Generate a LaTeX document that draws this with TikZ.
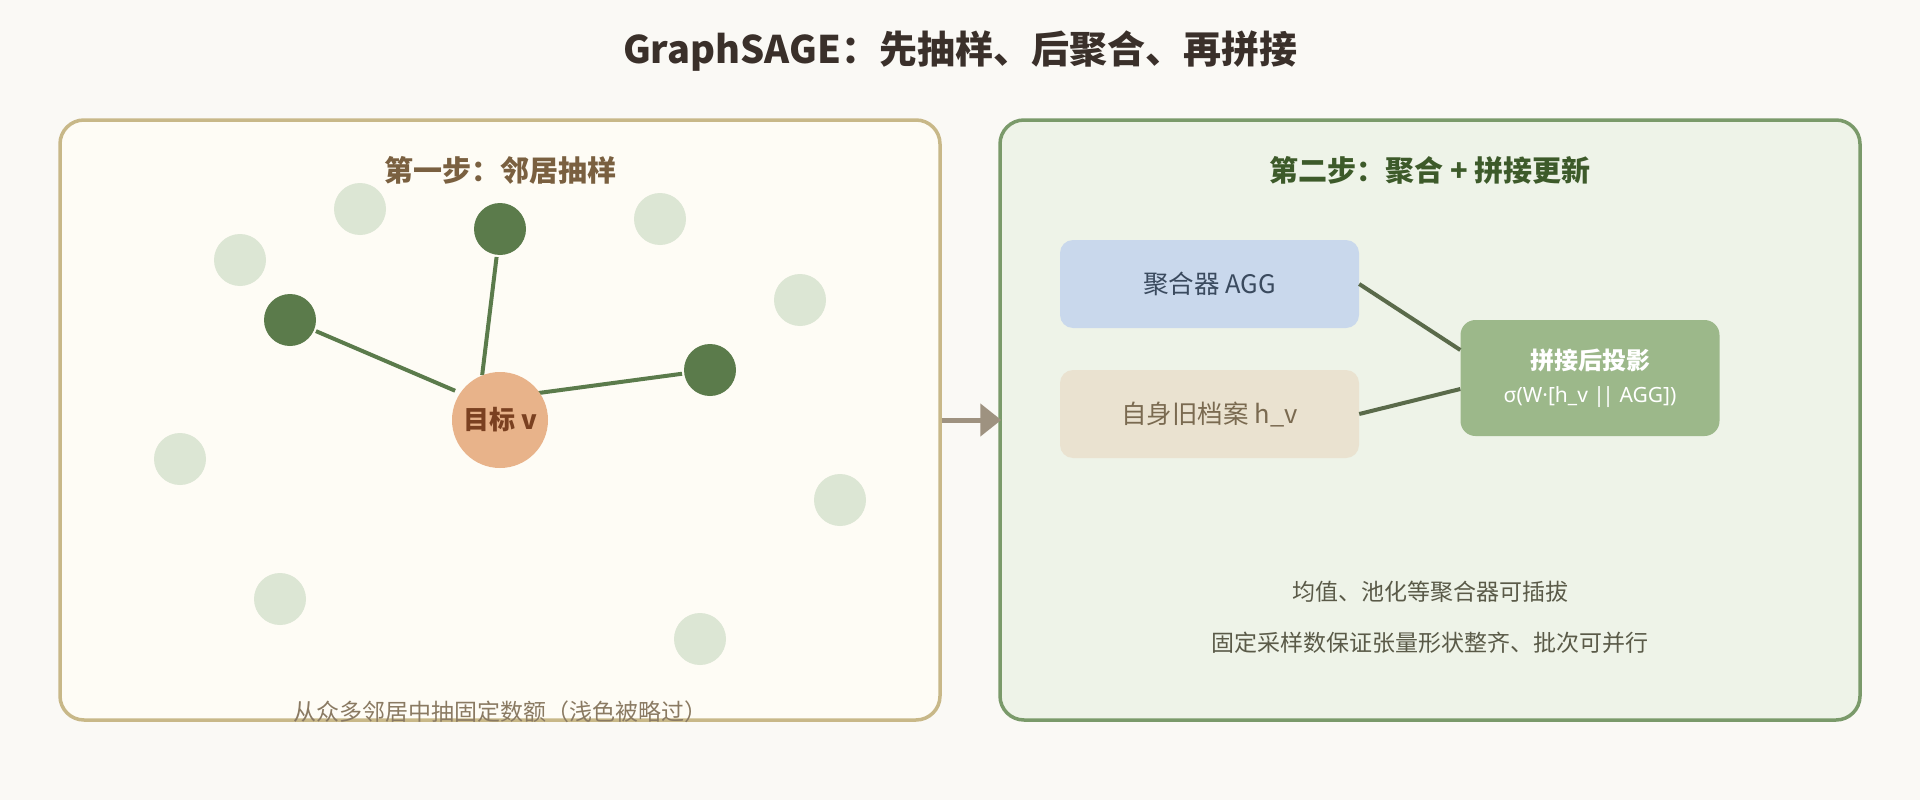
\documentclass[tikz,border=0pt]{standalone}
\usepackage{fontspec}
\setmainfont{Noto Sans CJK SC}
\newfontfamily\latinf{Noto Sans}
\usetikzlibrary{arrows.meta}
\definecolor{bgc}{HTML}{FAF9F5}
\definecolor{lfill}{HTML}{FEFCF5}
\definecolor{lborder}{HTML}{C8B888}
\definecolor{rfill}{HTML}{EEF3E8}
\definecolor{rborder}{HTML}{7A9A6A}
\definecolor{titlec}{HTML}{3A302A}
\definecolor{ltitle}{HTML}{7A6040}
\definecolor{rtitle}{HTML}{3D5A2A}
\definecolor{darkn}{HTML}{5B7B4B}
\definecolor{lightn}{HTML}{DCE6D4}
\definecolor{tfill}{HTML}{E8B38A}
\definecolor{ttext}{HTML}{7A4020}
\definecolor{arrowc}{HTML}{9E9280}
\definecolor{aggfill}{HTML}{C9D8EC}
\definecolor{aggtext}{HTML}{3A4A5E}
\definecolor{selffill}{HTML}{EAE2D0}
\definecolor{selftext}{HTML}{7A6A50}
\definecolor{projfill}{HTML}{9CB88A}
\definecolor{connc}{HTML}{5A6A4A}
\definecolor{notec}{HTML}{5A5A48}
\definecolor{capc}{HTML}{8A7A62}
\newcommand{\fs}[1]{\fontsize{#1}{#1}\selectfont}
\tikzset{
  panel/.style={draw, line width=3.5pt, rounded corners=24pt, minimum height=600pt, inner sep=0pt},
  darknode/.style={circle, fill=darkn, minimum size=52pt, inner sep=0pt},
  lightnode/.style={circle, fill=lightn, minimum size=52pt, inner sep=0pt},
  edge/.style={draw=darkn, line width=4pt, shorten <=2pt, shorten >=26pt},
  box/.style={rounded corners=13pt, minimum width=299pt, minimum height=88pt, inner sep=0pt, font=\fs{25.5}},
  conn/.style={draw=connc, line width=4pt},
  txt/.style={inner sep=0pt}
}
\begin{document}
\begin{tikzpicture}[x=1pt,y=-1pt]
\fill[bgc] (0,0) rectangle (1920,800);
\useasboundingbox (0,0) rectangle (1920,800);
\node[txt, text=titlec, font=\fs{38}\bfseries] (title) at (960,51) {GraphSAGE：先抽样、后聚合、再拼接};
% panels
\node[panel, draw=lborder, fill=lfill, minimum width=880pt] (pl) at (500,420) {};
\node[panel, draw=rborder, fill=rfill, minimum width=860pt] (pr) at (1430,420) {};
\draw[draw=arrowc, line width=5pt, -{Triangle[length=21pt,width=32pt]}, shorten >=-3pt] (pl.east) -- (pr.west);
% left panel
\node[txt, text=ltitle, font=\fs{29}\bfseries] (lt) at (500,170) {第一步：邻居抽样};
\node[lightnode] (l1) at (360,209) {};
\node[lightnode] (l2) at (240,260) {};
\node[lightnode] (l3) at (660,219) {};
\node[lightnode] (l4) at (800,300) {};
\node[lightnode] (l5) at (180,459) {};
\node[lightnode] (l6) at (840,500) {};
\node[lightnode] (l7) at (280,599) {};
\node[lightnode] (l8) at (700,639) {};
\node[darknode] (d1) at (290,320) {};
\node[darknode] (d2) at (500,229) {};
\node[darknode] (d3) at (710,370) {};
\coordinate (tc) at (479,401);
\draw[edge] (d1) -- (tc);
\draw[edge] (d2) -- (tc);
\draw[edge] (d3) -- (tc);
\node[circle, fill=tfill, minimum size=96pt, inner sep=0pt, text=ttext, font=\fs{26}\bfseries] (t) at (500,420) {目标 v};
\node[txt, text=capc, font=\fs{23}] (cap) at (500,712) {从众多邻居中抽固定数额（浅色被略过）};
% right panel
\node[txt, text=rtitle, font=\fs{29}\bfseries] (rt) at (1430,170) {第二步：聚合 + 拼接更新};
\node[box, fill=aggfill, text=aggtext] (agg) at (1209.5,284) {聚合器 AGG};
\node[box, fill=selffill, text=selftext] (self) at (1209.5,414) {自身旧档案 h\_v};
\node[rounded corners=15pt, fill=projfill, minimum width=259pt, minimum height=116pt, inner sep=0pt, text=white, align=center] (proj) at (1590,378)
  {{\fs{24}\bfseries 拼接后投影}\\[14pt]{\latinf\fs{21}σ(W·[h\_v |\kern-2.5pt| AGG])}};
\draw[conn] (agg.east) -- ([yshift=28pt]proj.west);
\draw[conn] (self.east) -- ([yshift=-11pt]proj.west);
\node[txt, text=notec, font=\fs{23}] (n1) at (1430,592) {均值、池化等聚合器可插拔};
\node[txt, text=notec, font=\fs{23}] (n2) at (1430,643) {固定采样数保证张量形状整齐、批次可并行};
\end{tikzpicture}
\end{document}
